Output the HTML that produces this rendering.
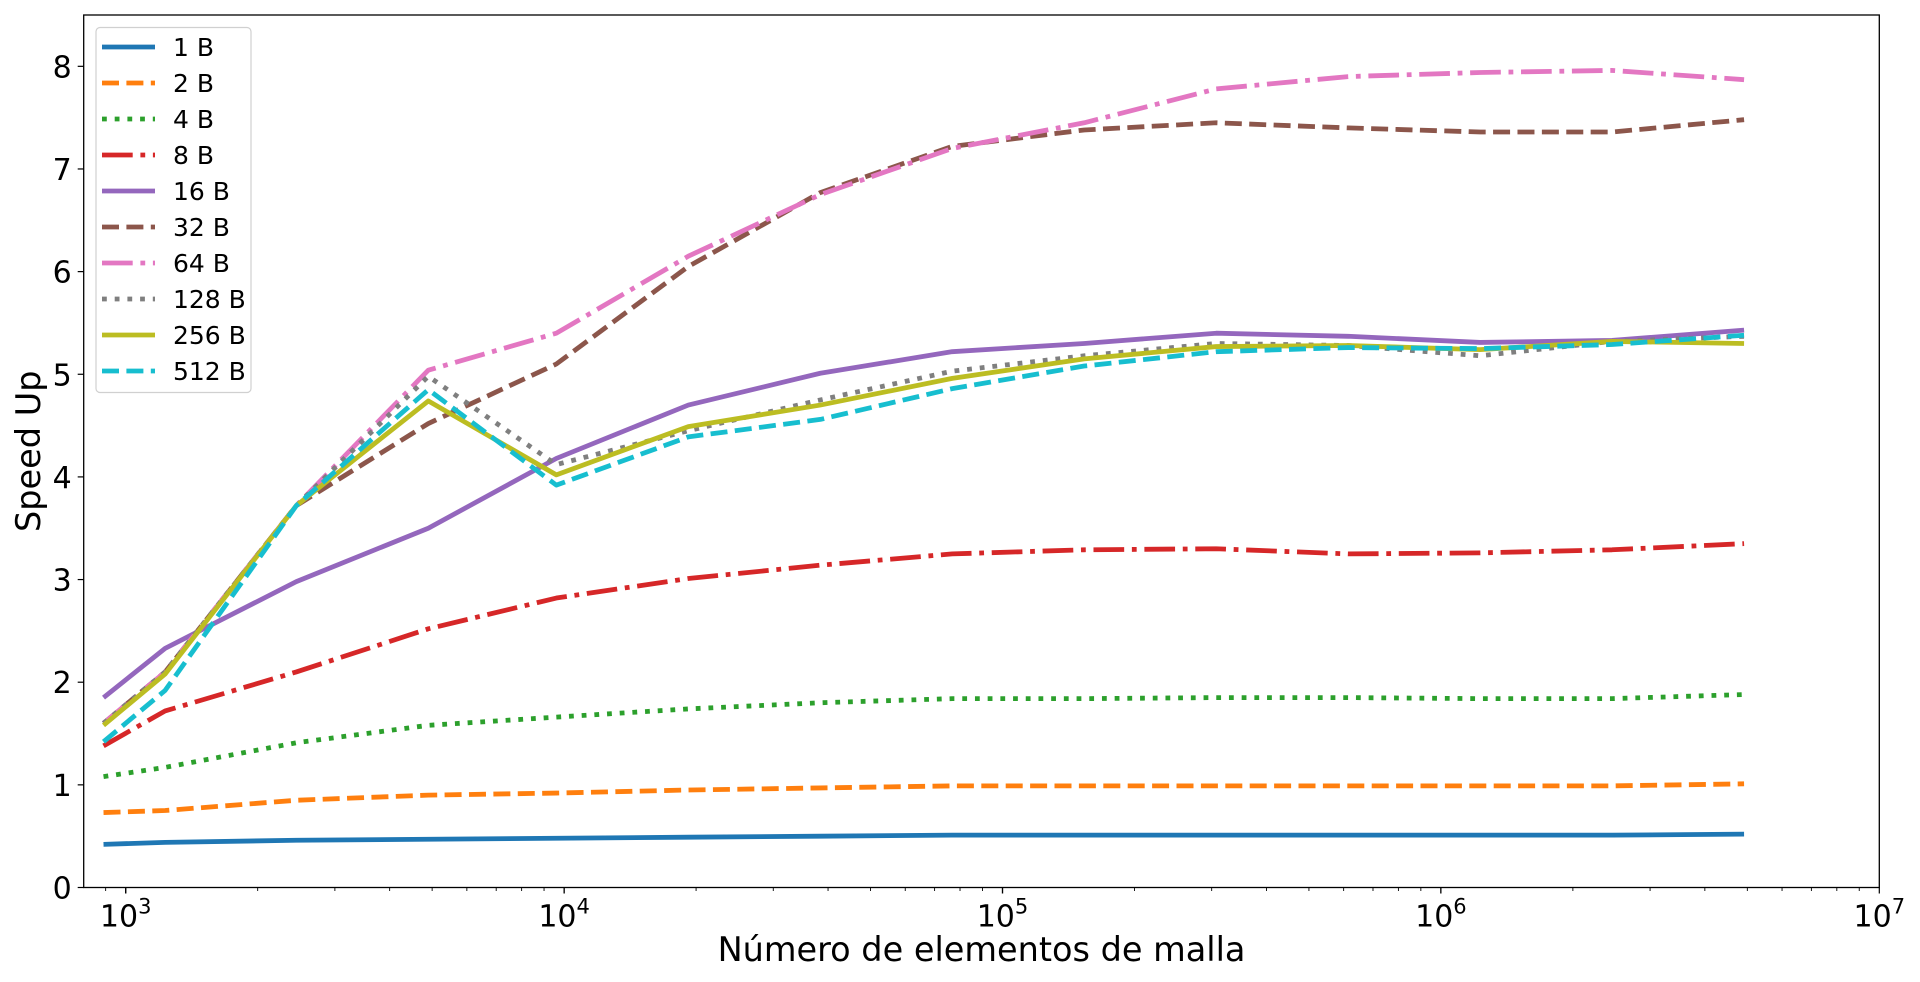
<!DOCTYPE html>
<html><head><meta charset="utf-8"><style>
html,body{margin:0;padding:0;background:#fff;}
svg{display:block;font-family:"DejaVu Sans","Liberation Sans",sans-serif;}
</style></head><body>
<svg id="chart" width="1920" height="982" viewBox="0 0 1920 982"></svg>
<script>
const xValues=[890,1230,2450,4900,9600,19200,38400,76800,153600,307200,614400,1228800,2457600,4915200];
const seriesNames=["1 B","2 B","4 B","8 B","16 B","32 B","64 B","128 B","256 B","512 B"];
const s1=[0.42,0.44,0.46,0.47,0.48,0.49,0.50,0.51,0.51,0.51,0.51,0.51,0.51,0.52];
const s2=[0.73,0.75,0.85,0.90,0.92,0.95,0.97,0.99,0.99,0.99,0.99,0.99,0.99,1.01];
const s4=[1.08,1.17,1.41,1.58,1.66,1.74,1.80,1.84,1.84,1.85,1.85,1.84,1.84,1.88];
const s8=[1.38,1.72,2.10,2.52,2.82,3.01,3.14,3.25,3.29,3.30,3.25,3.26,3.29,3.35];
const s16=[1.85,2.33,2.98,3.50,4.18,4.70,5.01,5.22,5.30,5.40,5.37,5.31,5.33,5.43];
const s32=[1.60,2.10,3.72,4.52,5.10,6.05,6.77,7.22,7.38,7.45,7.40,7.36,7.36,7.48];
const s64=[1.60,2.10,3.72,5.04,5.40,6.15,6.75,7.20,7.45,7.78,7.90,7.94,7.96,7.87];
const s128=[1.60,2.10,3.72,4.98,4.12,4.45,4.75,5.03,5.18,5.30,5.28,5.18,5.32,5.37];
const s256=[1.58,2.08,3.72,4.74,4.02,4.49,4.70,4.96,5.15,5.27,5.28,5.24,5.32,5.30];
const s512=[1.42,1.92,3.72,4.85,3.92,4.39,4.56,4.86,5.08,5.22,5.26,5.25,5.29,5.38];
const yTicks=[0,1,2,3,4,5,6,7,8];
const xTickExps=[3,4,5,6,7];

const NS="http://www.w3.org/2000/svg";
const svg=document.getElementById('chart');
const L=83.7,R=1879.3,T=15,B=887.5;
const xLogMin=Math.log10(802),xLogMax=7,yMax=8.5;
function X(v){return L+(Math.log10(v)-xLogMin)/(xLogMax-xLogMin)*(R-L);}
function Y(v){return B-v/yMax*(B-T);}
function mk(tag,attrs,parent){const e=document.createElementNS(NS,tag);for(const k in attrs)e.setAttribute(k,attrs[k]);(parent||svg).appendChild(e);return e;}

const allSeries=[s1,s2,s4,s8,s16,s32,s64,s128,s256,s512];
const colors=["#1f77b4","#ff7f0e","#2ca02c","#d62728","#9467bd","#8c564b","#e377c2","#7f7f7f","#bcbd22","#17becf"];
const dashes=["none","17 7.4","4.8 7.9","30.7 7.7 4.8 7.7","none","17 7.4","30.7 7.7 4.8 7.7","4.8 7.9","none","17 7.4"];

const clip=mk('clipPath',{id:'pc'});
mk('rect',{x:L,y:T,width:R-L,height:B-T},clip);

const g=mk('g',{'clip-path':'url(#pc)'});


allSeries.forEach((s,i)=>{
  const d=s.map((v,j)=>(j?'L':'M')+X(xValues[j]).toFixed(2)+' '+Y(v).toFixed(2)).join(' ');
  const p=mk('path',{d:d,fill:'none',stroke:colors[i],'stroke-width':4.8,'stroke-dasharray':dashes[i],'stroke-linejoin':'round','stroke-linecap':'butt'},g);
  
  
});

const fr=mk('rect',{x:L,y:T,width:R-L,height:B-T,fill:'none',stroke:'#000','stroke-width':1.3});



yTicks.forEach(t=>{
  const y=Y(t);
  mk('line',{x1:L-6,x2:L,y1:y,y2:y,stroke:'#000','stroke-width':1.2});
  const tx=mk('text',{x:L-12,y:y+11,'text-anchor':'end','font-size':30});
  tx.textContent=t;
  
  
});
for(let e=2;e<7;e++){for(let m=1;m<10;m++){const v=m*Math.pow(10,e);const lv=Math.log10(v);if(lv<xLogMin-1e-9||lv>xLogMax+1e-9)continue;const x=X(v);
  mk('line',{x1:x,x2:x,y1:B,y2:B+(m===1?6:3.5),stroke:'#000','stroke-width':m===1?1.2:0.9});}}
xTickExps.forEach(e=>{
  const x=X(Math.pow(10,e));
  mk('line',{x1:x,x2:x,y1:B,y2:B+6,stroke:'#000','stroke-width':1.2});
  const tx=mk('text',{x:x,y:B+39,'text-anchor':'middle','font-size':30});
  
  
  const a=mk('tspan',{},tx);a.textContent='10';
  const b=mk('tspan',{dy:-13,'font-size':21},tx);b.textContent=e;
});

const xt=mk('text',{x:(L+R)/2,y:961,'text-anchor':'middle','font-size':33.5});
xt.textContent='Número de elementos de malla';


const yt=mk('text',{x:0,y:0,'text-anchor':'middle','font-size':33.5,transform:'translate(40,'+((T+B)/2)+') rotate(-90)'});
yt.textContent='Speed Up';



const lg=mk('g',{});


mk('rect',{x:96,y:27.5,width:155,height:365,rx:4,fill:'#fff','fill-opacity':0.8,stroke:'#d0d0d0','stroke-width':1.2},lg);
seriesNames.forEach((n,i)=>{
  const y=47+i*36;
  const e=mk('g',{},lg);
  
  
  mk('line',{x1:102,x2:155,y1:y,y2:y,stroke:colors[i],'stroke-width':4.8,'stroke-dasharray':dashes[i]},e);
  const t=mk('text',{x:173,y:y+9,'font-size':25},e);t.textContent=n;
});
</script>
</body></html>
